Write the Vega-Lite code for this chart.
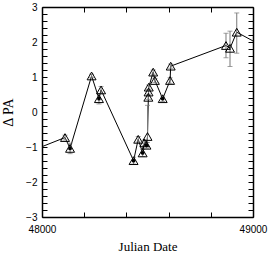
{
  "$schema": "https://vega.github.io/schema/vega-lite/v6.json",
  "width": 211,
  "height": 210,
  "autosize": "none",
  "padding": {"left": 42, "top": 7, "right": 21, "bottom": 38},
  "background": "white",
  "config": {
    "view": {"stroke": null},
    "axis": {
      "grid": false,
      "domainColor": "black",
      "domainWidth": 1.5,
      "tickColor": "black",
      "tickWidth": 1,
      "labelFont": "Liberation Sans",
      "labelFontSize": 10,
      "labelColor": "black",
      "titleFont": "Liberation Serif",
      "titleFontWeight": "normal",
      "titleColor": "black"
    }
  },
  "data": {
    "values": [
      {"x": 48000, "y": -0.99, "m": false, "dot": false},
      {"x": 48109, "y": -0.73, "lo": -0.8, "hi": -0.66, "m": true, "dot": false},
      {"x": 48133, "y": -1.04, "lo": -1.19, "hi": -0.89, "m": true, "dot": true},
      {"x": 48235, "y": 1.03, "lo": 0.98, "hi": 1.08, "m": true, "dot": false},
      {"x": 48270, "y": 0.38, "lo": 0.23, "hi": 0.53, "m": true, "dot": true},
      {"x": 48280, "y": 0.63, "lo": 0.53, "hi": 0.73, "m": true, "dot": false},
      {"x": 48434, "y": -1.39, "lo": -1.49, "hi": -1.29, "m": true, "dot": true},
      {"x": 48456, "y": -0.78, "lo": -0.86, "hi": -0.7, "m": true, "dot": false},
      {"x": 48477, "y": -1.17, "lo": -1.27, "hi": -1.07, "m": true, "dot": true},
      {"x": 48485, "y": -0.88, "lo": -0.96, "hi": -0.8, "m": true, "dot": false},
      {"x": 48495, "y": -0.95, "lo": -1.03, "hi": -0.87, "m": true, "dot": true},
      {"x": 48500, "y": -0.7, "lo": -0.87, "hi": 0.19, "m": true, "dot": false},
      {"x": 48504, "y": 0.42, "lo": 0.36, "hi": 0.48, "m": true, "dot": false},
      {"x": 48505, "y": 0.57, "lo": 0.51, "hi": 0.63, "m": true, "dot": false},
      {"x": 48506, "y": 0.71, "lo": 0.65, "hi": 0.77, "m": true, "dot": false},
      {"x": 48527, "y": 1.14, "lo": 1.08, "hi": 1.2, "m": true, "dot": false},
      {"x": 48535, "y": 0.9, "lo": 0.84, "hi": 0.96, "m": true, "dot": false},
      {"x": 48572, "y": 0.38, "lo": 0.3, "hi": 0.46, "m": true, "dot": true},
      {"x": 48607, "y": 0.9, "lo": 0.82, "hi": 0.98, "m": true, "dot": false},
      {"x": 48610, "y": 1.31, "lo": 1.25, "hi": 1.37, "m": true, "dot": false},
      {"x": 48872, "y": 1.9, "lo": 1.55, "hi": 2.25, "m": true, "dot": false},
      {"x": 48891, "y": 1.82, "lo": 1.3, "hi": 2.31, "m": true, "dot": false},
      {"x": 48923, "y": 2.28, "lo": 1.68, "hi": 2.83, "m": true, "dot": false},
      {"x": 49000, "y": 2.03, "m": false, "dot": false}
    ]
  },
  "resolve": {"axis": {"x": "independent", "y": "independent"}},
  "layer": [
    {
      "mark": {"type": "line", "color": "black", "strokeWidth": 1},
      "encoding": {
        "x": {"field": "x", "type": "quantitative",
          "scale": {"domain": [48000, 49000], "nice": false, "zero": false},
          "axis": {"orient": "bottom", "values": [48000, 48200, 48400, 48600, 48800, 49000],
            "format": "d", "labelExpr": "(datum.value == 48000 || datum.value == 49000) ? datum.label : ''",
            "tickSize": -5, "labelPadding": 12, "labelFlush": false, "title": "Julian Date",
            "titleFontSize": 13, "titlePadding": 6}},
        "y": {"field": "y", "type": "quantitative",
          "scale": {"domain": [-3, 3], "nice": false, "zero": false},
          "axis": {"orient": "left", "values": [-3, -2.8, -2.6, -2.4, -2.2, -2, -1.8, -1.6, -1.4, -1.2, -1, -0.8, -0.6, -0.4, -0.2, 0, 0.2, 0.4, 0.6, 0.8, 1, 1.2, 1.4, 1.6, 1.8, 2, 2.2, 2.4, 2.6, 2.8, 3],
            "labelExpr": "abs(datum.value - round(datum.value)) < 0.01 ? format(datum.value, 'd') : ''",
            "tickSize": -5, "labelPadding": 10, "title": "Δ PA", "titleFontSize": 14, "titlePadding": 10}}
      }
    },
    {
      "transform": [{"filter": "isValid(datum.lo)"}],
      "mark": {"type": "rule", "color": "#777777", "strokeWidth": 1},
      "encoding": {
        "x": {"field": "x", "type": "quantitative",
          "axis": {"orient": "top", "values": [48000, 48200, 48400, 48600, 48800, 49000], "labels": false, "tickSize": -5, "title": null}},
        "y": {"field": "lo", "type": "quantitative",
          "axis": {"orient": "right", "values": [-3, -2.8, -2.6, -2.4, -2.2, -2, -1.8, -1.6, -1.4, -1.2, -1, -0.8, -0.6, -0.4, -0.2, 0, 0.2, 0.4, 0.6, 0.8, 1, 1.2, 1.4, 1.6, 1.8, 2, 2.2, 2.4, 2.6, 2.8, 3], "labels": false, "tickSize": -5, "title": null}},
        "y2": {"field": "hi"}
      }
    },
    {
      "transform": [{"filter": "isValid(datum.lo)"}],
      "mark": {"type": "tick", "orient": "horizontal", "color": "#777777", "size": 5, "thickness": 1},
      "encoding": {
        "x": {"field": "x", "type": "quantitative", "axis": null},
        "y": {"field": "lo", "type": "quantitative", "axis": null}
      }
    },
    {
      "transform": [{"filter": "isValid(datum.hi)"}],
      "mark": {"type": "tick", "orient": "horizontal", "color": "#777777", "size": 5, "thickness": 1},
      "encoding": {
        "x": {"field": "x", "type": "quantitative", "axis": null},
        "y": {"field": "hi", "type": "quantitative", "axis": null}
      }
    },
    {
      "transform": [{"filter": "datum.m"}],
      "mark": {"type": "point", "shape": "triangle-up", "filled": false, "stroke": "black", "strokeWidth": 1, "size": 80, "opacity": 1},
      "encoding": {
        "x": {"field": "x", "type": "quantitative", "axis": null},
        "y": {"field": "y", "type": "quantitative", "axis": null}
      }
    },
    {
      "transform": [{"filter": "datum.dot"}],
      "mark": {"type": "point", "shape": "circle", "filled": true, "color": "black", "size": 14, "opacity": 1},
      "encoding": {
        "x": {"field": "x", "type": "quantitative", "axis": null},
        "y": {"field": "y", "type": "quantitative", "axis": null}
      }
    }
  ]
}
